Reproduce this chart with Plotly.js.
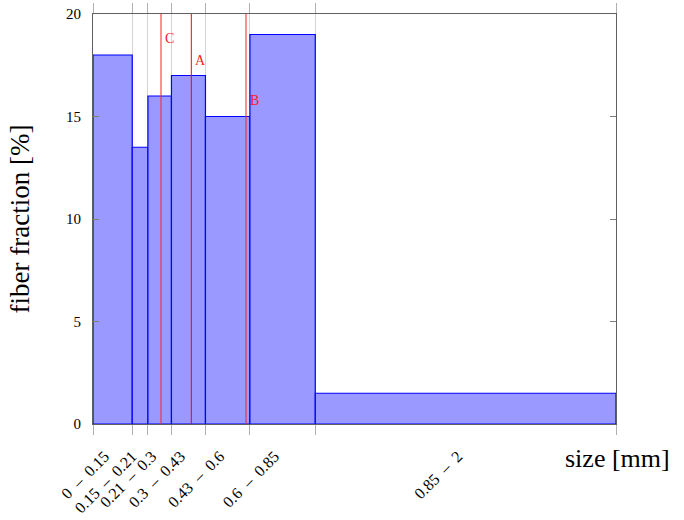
<!DOCTYPE html>
<html>
<head>
<meta charset="utf-8">
<script src="https://cdn.plot.ly/plotly-3.0.1.min.js"></script>
<style>html,body{margin:0;padding:0;background:#fff;}#chart{width:684px;height:520px;}</style>
</head>
<body>
<div id="chart"></div>
<script>
// bin edges (mm) and fiber fraction (%)
var binLow  = [0, 0.15, 0.21, 0.3, 0.43, 0.6, 0.85];
var binHigh = [0.15, 0.21, 0.3, 0.43, 0.6, 0.85, 2];
var fraction = [18, 13.5, 16, 17, 15, 19, 1.5];
var binLabels = ['0\u2002–\u20020.15', '0.15\u2002–\u20020.21', '0.21\u2002–\u20020.3', '0.3\u2002–\u20020.43', '0.43\u2002–\u20020.6', '0.6\u2002–\u20020.85', '0.85\u2002–\u20022'];
var yTicks = [0, 5, 10, 15, 20];
// marker lines
var markNames = ['C', 'A', 'B'];
var markX = [0.26, 0.376, 0.585];
var markLabelY = [18.8, 17.75, 15.8];

var FONT = '"Liberation Serif", "DejaVu Serif", serif';
var widths = binLow.map(function(v, i){ return binHigh[i] - v; });
var centers = binLow.map(function(v, i){ return (v + binHigh[i]) / 2; });
var edges = binLow.concat([binHigh[binHigh.length - 1]]);

var traces = [{
  type: 'bar', x: binLow, y: fraction, width: widths, offset: 0, base: 0,
  marker: {color: '#9999ff', line: {color: '#0000ff', width: 1.2}},
  hoverinfo: 'skip', showlegend: false
}, {
  type: 'scatter', mode: 'markers', x: centers, y: fraction.map(function(){return 0;}),
  xaxis: 'x2', yaxis: 'y', marker: {opacity: 0}, showlegend: false, hoverinfo: 'skip'
}];

var shapes = markX.map(function(x, i){
  var isA = markNames[i] === 'A';
  return {type: 'line', xref: 'x', yref: 'paper', x0: x, x1: x, y0: 0, y1: 1,
    line: {color: isA ? 'rgb(255,0,0)' : 'rgba(255,40,40,0.65)', width: isA ? 1 : 1.6}, layer: 'above'};
});

var annotations = markNames.map(function(n, i){
  return {x: markX[i], y: markLabelY[i], xref: 'x', yref: 'y', text: n, showarrow: false,
    xanchor: 'left', yanchor: 'middle', xshift: 2, font: {family: FONT, size: 14, color: '#ff1a1a'}};
});
annotations.push({x: 1.107, y: -0.083, xref: 'paper', yref: 'paper', text: 'size [mm]', showarrow: false,
  xanchor: 'right', yanchor: 'middle', font: {family: FONT, size: 26, color: '#000'}});

var layout = {
  width: 684, height: 520,
  margin: {l: 93, r: 68, t: 14, b: 96},
  paper_bgcolor: '#fff', plot_bgcolor: '#fff',
  bargap: 0,
  xaxis: {
    range: [0, 2], tickmode: 'array', tickvals: edges, ticktext: edges.map(function(){return '';}),
    ticks: 'outside', ticklen: 10, tickwidth: 1, tickcolor: '#b0b0b0',
    showgrid: true, gridcolor: '#d4d4d4', gridwidth: 1,
    showline: true, linecolor: '#606060', linewidth: 1, mirror: 'ticks', zeroline: false, fixedrange: true
  },
  xaxis2: {
    overlaying: 'x', anchor: 'y', side: 'bottom', range: [0, 2],
    tickmode: 'array', tickvals: centers, ticktext: binLabels, tickangle: -45,
    ticks: '', showgrid: false, showline: false, zeroline: false, ticklabelstandoff: 19,
    ticklabelshift: -8,
    tickfont: {family: FONT, size: 16, color: '#000'}
  },
  yaxis: {
    range: [0, 20], tickmode: 'array', tickvals: yTicks, ticks: 'inside', ticklen: 6, tickcolor: '#808080',
    showgrid: false, showline: true, linecolor: '#606060', linewidth: 1, mirror: 'ticks', zeroline: false,
    ticklabelstandoff: 8,
    tickfont: {family: FONT, size: 15, color: '#000'},
    title: {text: 'fiber fraction [%]', font: {family: FONT, size: 27, color: '#000'}, standoff: 28}
  },
  shapes: shapes,
  annotations: annotations
};

Plotly.newPlot('chart', traces, layout, {displayModeBar: false, staticPlot: true});
</script>
</body>
</html>
